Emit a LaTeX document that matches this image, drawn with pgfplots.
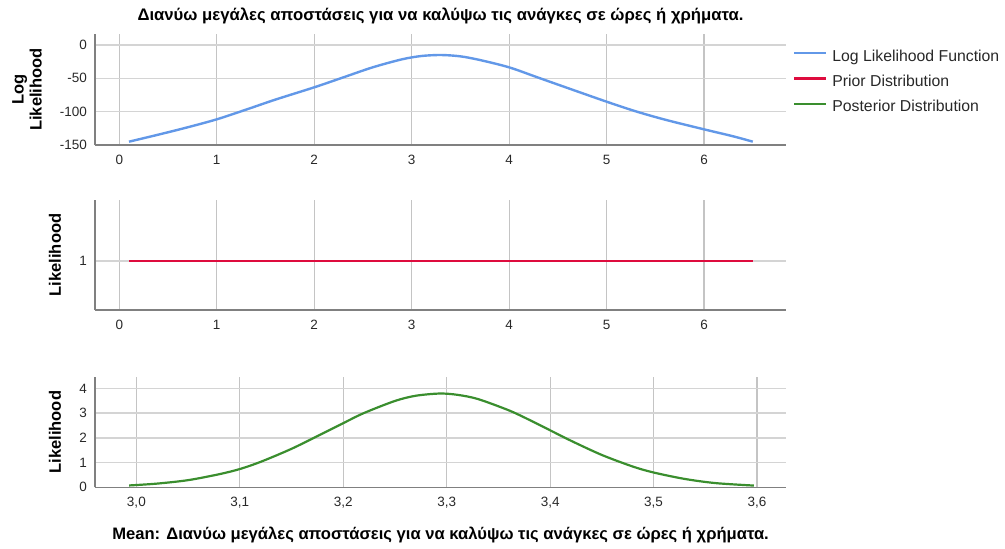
\documentclass[border=0pt]{standalone}
\usepackage{pgfplots}
\pgfplotsset{compat=1.18}
\usepackage{fontspec}
\setmainfont{Liberation Sans}

\definecolor{llblue}{RGB}{98,152,232}
\definecolor{priorred}{RGB}{222,12,62}
\definecolor{postgreen}{RGB}{58,142,46}
\definecolor{hgrid}{RGB}{212,212,212}
\definecolor{vgrid}{RGB}{196,196,196}
\definecolor{axisgray}{RGB}{128,128,128}
\definecolor{ticktext}{RGB}{40,40,40}

\pgfplotsset{
  panel/.style={
    scale only axis,
    width=691pt,
    anchor=south west,
    axis x line*=bottom,
    axis y line*=left,
    axis line style={axisgray, line width=1.4pt, -},
    major tick length=0pt,
    grid=major,
    x grid style={vgrid, line width=1.2pt},
    y grid style={hgrid, line width=1.6pt},
    /pgf/number format/assume math mode=true,
    tick label style={font=\fontsize{13.5}{16}\selectfont, text=ticktext},
    xticklabel style={anchor=base, inner sep=0pt, yshift=-19pt},
    yticklabel style={anchor=east, inner sep=0pt, xshift=-8pt},
    ylabel style={font=\fontsize{16.5}{18}\bfseries, anchor=center, align=center},
    clip=false,
  },
}

\begin{document}
\begin{tikzpicture}
\path[use as bounding box] (0pt,0pt) rectangle (1005pt,-549pt);

% Log likelihood of the mean
\begin{axis}[panel,
  at={(95pt,-145pt)}, height=111pt,
  xmin=-0.249, xmax=6.841, ymin=-150, ymax=16.5,
  xtick={0,1,2,3,4,5,6},
  ytick={-150,-100,-50,0},
  ylabel={Log\\Likelihood},
  every axis y label/.append style={at={(axis description cs:-0.0984,0.5)}},
  title={Διανύω μεγάλες αποστάσεις για να καλύψω τις ανάγκες σε ώρες ή χρήματα.},
  title style={font=\fontsize{16.7}{18}\bfseries, anchor=base, at={(axis description cs:0.5,1)}, yshift=7.5pt},
  legend cell align=left,
  legend style={draw=none, fill=none, at={(axis description cs:1.0101,0.855)}, anchor=north west,
    inner sep=0pt, row sep=11.3pt,
    /tikz/every odd column/.append style={column sep=5pt},
    nodes={inner sep=0pt, text height=11pt, text depth=3pt, font=\fontsize{15.8}{17}\selectfont, text=ticktext}},
  legend image code/.code={\draw[#1, line width=2.2pt] (0pt,4pt) -- (32pt,4pt);},
]
\addplot[llblue, line width=2.4pt, smooth] coordinates {
  (0.1,-145) (0.4,-134.5) (0.7,-123.5) (1.0,-111.5) (1.3,-97) (1.6,-82)
  (2.0,-63.5) (2.3,-48.5) (2.6,-33.5) (2.9,-21.5) (3.1,-16.5) (3.3,-15)
  (3.5,-17) (3.7,-22.5) (4.0,-33.5) (4.3,-49) (4.6,-64.5) (5.0,-85)
  (5.3,-99.5) (5.6,-112) (6.0,-126.5) (6.3,-137) (6.5,-145)
};
\addlegendentry{Log Likelihood Function}
\addlegendimage{priorred}
\addlegendentry{Prior Distribution}
\addlegendimage{postgreen}
\addlegendentry{Posterior Distribution}
\end{axis}

% Prior distribution (flat)
\begin{axis}[panel,
  at={(95pt,-310pt)}, height=110pt,
  xmin=-0.249, xmax=6.841, ymin=0.5, ymax=1.616,
  xtick={0,1,2,3,4,5,6},
  ytick={1},
  ylabel={Likelihood},
  every axis y label/.append style={at={(axis description cs:-0.0579,0.5)}},
]
\addplot[priorred, line width=2.2pt] coordinates {(0.1,1) (6.5,1)};
\end{axis}

% Posterior distribution of the mean
\begin{axis}[panel,
  at={(95pt,-487.3pt)}, height=110.3pt,
  xmin=2.960, xmax=3.628, ymin=0, ymax=4.47,
  xtick={3.0,3.1,3.2,3.3,3.4,3.5,3.6},
  ytick={0,1,2,3,4},
  xticklabel={\pgfmathprintnumber[fixed, fixed zerofill, precision=1, use comma]{\tick}},
  ylabel={Likelihood},
  every axis y label/.append style={at={(axis description cs:-0.0579,0.5)}},
  xlabel={Mean: Διανύω μεγάλες αποστάσεις για να καλύψω τις ανάγκες σε ώρες ή χρήματα.},
  xlabel style={font=\fontsize{16.6}{18}\bfseries, anchor=base, at={(axis description cs:0.5,0)}, yshift=-52pt},
]
\addplot[postgreen, line width=2.2pt, smooth] coordinates {
  (2.993,0.075) (3.02,0.15) (3.05,0.29) (3.08,0.53) (3.10,0.74) (3.12,1.03)
  (3.15,1.56) (3.18,2.18) (3.20,2.60) (3.22,3.01) (3.25,3.50) (3.27,3.71)
  (3.293,3.80) (3.31,3.75) (3.33,3.58) (3.36,3.12) (3.38,2.73) (3.40,2.31)
  (3.42,1.89) (3.45,1.31) (3.48,0.84) (3.50,0.60) (3.53,0.34) (3.56,0.17)
  (3.597,0.07)
};
\end{axis}
\end{tikzpicture}
\end{document}
